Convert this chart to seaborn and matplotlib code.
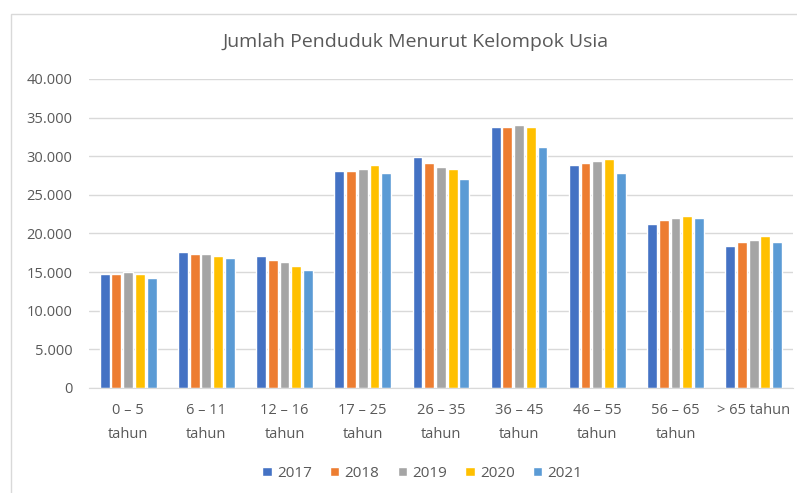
import numpy as np
import pandas as pd
import matplotlib
matplotlib.use('Agg')
import matplotlib.pyplot as plt
import matplotlib.ticker as mticker
from matplotlib.patches import Rectangle
import seaborn as sns

# data
groups = ['0 – 5\ntahun', '6 – 11\ntahun', '12 – 16\ntahun', '17 – 25\ntahun',
          '26 – 35\ntahun', '36 – 45\ntahun', '46 – 55\ntahun', '56 – 65\ntahun',
          '> 65 tahun']
years = ['2017', '2018', '2019', '2020', '2021']
v2017 = [14750, 17600, 17100, 28100, 29900, 33750, 28850, 21200, 18400]
v2018 = [14750, 17350, 16550, 28100, 29100, 33750, 29100, 21700, 18900]
v2019 = [15000, 17350, 16300, 28350, 28600, 34000, 29400, 21950, 19150]
v2020 = [14750, 17100, 15800, 28850, 28350, 33750, 29650, 22200, 19650]
v2021 = [14250, 16850, 15300, 27850, 27050, 31150, 27850, 21950, 18900]
colors = ['#4472C4', '#ED7D31', '#A5A5A5', '#FFC000', '#5B9BD5']

df = pd.DataFrame({'Kelompok': groups * 5,
                   'Tahun': np.repeat(years, len(groups)),
                   'Jumlah': v2017 + v2018 + v2019 + v2020 + v2021})

sns.set_style('white')
plt.rcParams['font.family'] = ['Open Sans', 'DejaVu Sans']
txt = '#595959'

fig = plt.figure(figsize=(7.97, 4.93), dpi=100)
ax = fig.add_axes([0.1117, 0.213, 0.883, 0.627])

sns.barplot(data=df, x='Kelompok', y='Jumlah', hue='Tahun', palette=colors,
            width=0.75, gap=0.16, saturation=1, ax=ax, legend=True)

ax.set_ylim(0, 40000)
ax.set_xlim(-0.5, len(groups) - 0.5)
ax.yaxis.set_major_locator(mticker.MultipleLocator(5000))
ax.yaxis.set_major_formatter(mticker.FuncFormatter(lambda v, p: f'{int(v):,}'.replace(',', '.')))
ax.grid(axis='y', color='#d9d9d9', linewidth=1)
ax.set_axisbelow(True)
for s in ['top', 'right', 'left']:
    ax.spines[s].set_visible(False)
ax.spines['bottom'].set_color('#d9d9d9')
ax.tick_params(axis='both', length=0, colors=txt, labelsize=10.5)
ax.tick_params(axis='y', pad=12)
ax.tick_params(axis='x', pad=11)
for lab in ax.get_xticklabels():
    lab.set_linespacing(1.75)
ax.set_xlabel('')
ax.set_ylabel('')

handles, labels = ax.get_legend_handles_labels()
ax.get_legend().remove()
fig.legend(handles, labels, loc='center', bbox_to_anchor=(0.53, 0.04), ncol=5,
           frameon=False, fontsize=11, labelcolor=txt, handlelength=0.6,
           handleheight=0.6, handletextpad=0.35, columnspacing=1.2)

fig.text(0.521, 0.915, 'Jumlah Penduduk Menurut Kelompok Usia', ha='center',
         va='center', fontsize=14, color=txt)

# chart frame
fig.patches.append(Rectangle((11 / 797, -0.1), 1.2, 1.1 - 14 / 493, transform=fig.transFigure,
                             fill=False, edgecolor='#d9d9d9', linewidth=1))

fig.savefig('out.png', dpi=100)
